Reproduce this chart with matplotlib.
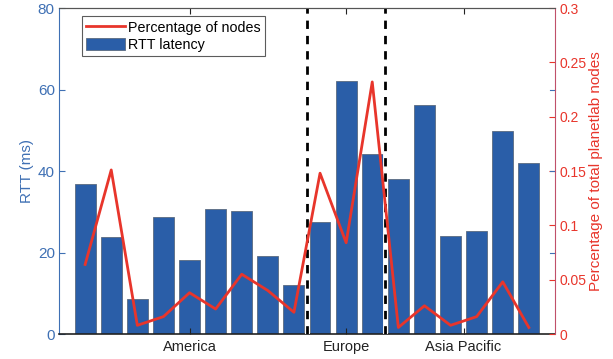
import matplotlib.pyplot as plt
import numpy as np

plt.rcParams['font.family'] = ['Liberation Sans', 'DejaVu Sans']

# RTT latency per site (ms) and share of planetlab nodes
rtt = [36.7, 23.8, 8.7, 28.6, 18.2, 30.6, 30.3, 19.2, 12.1,
       27.4, 62.1, 44.3,
       38.0, 56.3, 24.0, 25.3, 49.8, 42.0]
share = [0.064, 0.151, 0.008, 0.016, 0.038, 0.023, 0.055, 0.040, 0.020,
         0.148, 0.084, 0.232,
         0.006, 0.026, 0.008, 0.016, 0.048, 0.006]
regions = ["America", "Europe", "Asia Pacific"]
region_pos = [5, 11, 15.5]
borders = [9.5, 12.5]

blue = "#2A5EA8"
red = "#E8352B"
axblue = "#3F70B4"

x = np.arange(1, len(rtt) + 1)

fig = plt.figure(figsize=(6.13, 3.59), dpi=100)
ax = fig.add_axes([0.0963, 0.0696, 0.809, 0.908])
ax2 = ax.twinx()

bars = ax.bar(x, rtt, width=0.8, color=blue, edgecolor="#5a6a80", linewidth=0.6,
              label="RTT latency")
for b in borders:
    ax.axvline(b, color="white", lw=3.5, zorder=3)
    ax.axvline(b, color="black", lw=2, ls=(0, (3, 2.5)), zorder=4)

line, = ax2.plot(x, share, color=red, lw=2, label="Percentage of nodes")

ax.set_xlim(0, 19)
ax.set_ylim(0, 80)
ax2.set_ylim(0, 0.3)
ax.set_yticks([0, 20, 40, 60, 80])
ax2.set_yticks([0, 0.05, 0.1, 0.15, 0.2, 0.25, 0.3])
ax2.set_yticklabels(["0", "0.05", "0.1", "0.15", "0.2", "0.25", "0.3"])
ax.set_xticks(region_pos)
ax.set_xticklabels(regions)

ax.tick_params(axis="x", direction="in", top=True, length=4, labelsize=10.5,
               colors="#222222", pad=4)
ax.tick_params(axis="y", direction="in", right=False, length=4, labelsize=11,
               colors=axblue, pad=3)
ax2.tick_params(axis="y", direction="in", length=4, labelsize=10, colors=red, pad=3)

# left scale ticks mirrored on the right side
for v in [20, 40, 60]:
    ax2.plot([0.99, 1.0], [v / 80, v / 80], transform=ax2.transAxes,
             color=axblue, lw=0.8, clip_on=False)

ax.set_ylabel("RTT (ms)", color=axblue, fontsize=11, labelpad=3)
ax2.set_ylabel("Percentage of total planetlab nodes", color=red, fontsize=11,
               rotation=90, labelpad=2)

ax.spines["left"].set_color(axblue)
ax2.spines["left"].set_visible(False)
ax.spines["right"].set_visible(False)
ax2.spines["right"].set_color("#c0506a")
ax.spines["bottom"].set_color("#222222")
ax.spines["bottom"].set_linewidth(1.2)
ax2.spines["bottom"].set_visible(False)
ax.spines["top"].set_color("#555555")
ax2.spines["top"].set_color("#555555")

leg = ax2.legend([line, bars], ["Percentage of nodes", "RTT latency"],
                 loc="upper left", bbox_to_anchor=(0.046, 0.975),
                 fontsize=10.3, frameon=True, fancybox=False, edgecolor="#333333",
                 borderpad=0.3, labelspacing=0.2, handlelength=2.7,
                 handleheight=1.0, handletextpad=0.25, borderaxespad=0)
leg.get_frame().set_linewidth(0.8)

fig.savefig("out.png", dpi=100)
